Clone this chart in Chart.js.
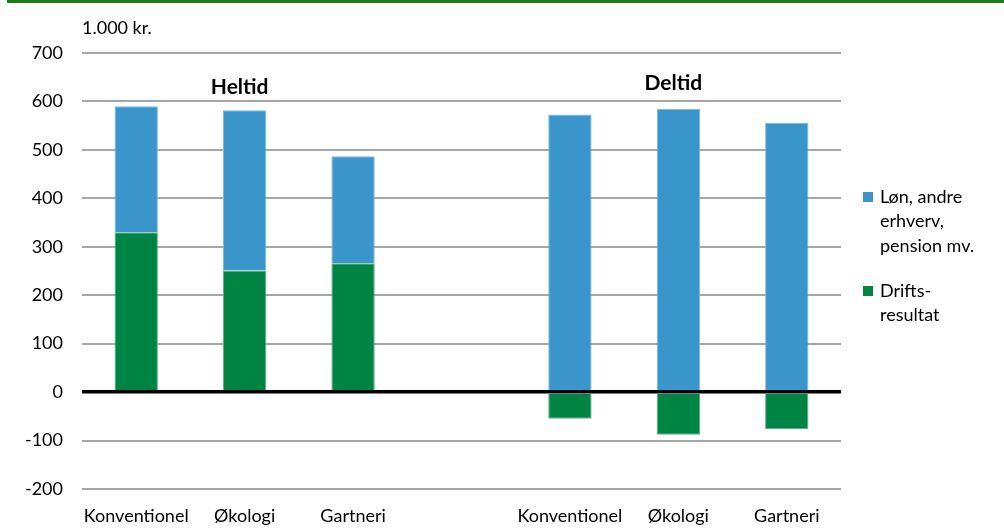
<!DOCTYPE html>
<html>
<head>
<meta charset="utf-8">
<script src="https://cdn.jsdelivr.net/npm/chart.js@4"></script>
<style>
  body { margin: 0; background: #fff; }
  #wrap { position: relative; width: 1004px; height: 532px; }
  #topline { position: absolute; left: 7px; right: 0; top: 0; height: 3px; background: #1a7f1a; }
</style>
</head>
<body>
<div id="wrap">
  <div id="topline"></div>
  <canvas id="chart" width="1004" height="532"></canvas>
</div>
<script>
// Data
const categories = ["Konventionel", "Økologi", "Gartneri", "", "Konventionel", "Økologi", "Gartneri"];
const driftsresultat = [330, 251, 266, null, -55, -88, -76];
const loenMv = [260, 331, 221, null, 573, 585, 556];
const groupLabels = ["Heltid", "Deltid"];
const groupCenterIndex = [1, 5];
const legendLoen = ["Løn, andre", "erhverv,", "pension mv."];
const legendDrifts = ["Drifts-", "resultat"];
const yTicks = { min: -200, max: 700, step: 100 };
const unitLabel = "1.000 kr.";

const FONT = "Lato, 'Liberation Sans', sans-serif";
const BLUE = "#3a95cb";
const GREEN = "#008443";

// Group titles, unit label and legend
const extrasPlugin = {
  id: "extras",
  afterDraw(chart) {
    const { ctx, chartArea, scales } = chart;
    ctx.save();
    ctx.fillStyle = "#000";
    ctx.textBaseline = "middle";

    ctx.font = "18px " + FONT;
    ctx.textAlign = "left";
    ctx.fillText(unitLabel, chartArea.left, 28);

    ctx.font = "bold 21px " + FONT;
    ctx.textAlign = "center";
    groupLabels.forEach((label, i) => {
      const x = scales.x.getPixelForValue(groupCenterIndex[i]);
      ctx.fillText(label, x - 5, i === 0 ? 87 : 83);
    });

    // legend
    ctx.font = "18px " + FONT;
    ctx.textAlign = "left";
    const items = [
      { color: BLUE, lines: legendLoen, y: 197 },
      { color: GREEN, lines: legendDrifts, y: 291 },
    ];
    items.forEach((item) => {
      ctx.fillStyle = item.color;
      ctx.fillRect(863, item.y - 5, 10, 10);
      ctx.fillStyle = "#000";
      item.lines.forEach((line, j) => {
        ctx.fillText(line, 880, item.y + j * 24.5);
      });
    });
    ctx.restore();
  },
};

const ctx = document.getElementById("chart").getContext("2d");

new Chart(ctx, {
  type: "bar",
  data: {
    labels: categories,
    datasets: [
      {
        label: "Driftsresultat",
        data: driftsresultat,
        backgroundColor: GREEN,
        borderColor: "#5fae86",
        borderWidth: 1,
        barPercentage: 0.4,
        categoryPercentage: 1,
      },
      {
        label: "Løn, andre erhverv, pension mv.",
        data: loenMv,
        backgroundColor: BLUE,
        borderColor: "#7cb9df",
        borderWidth: 1,
        barPercentage: 0.4,
        categoryPercentage: 1,
      },
    ],
  },
  options: {
    responsive: false,
    animation: false,
    layout: { padding: { top: 53, right: 163, left: 0, bottom: 0 } },
    scales: {
      x: {
        stacked: true,
        grid: { display: false },
        border: { display: false },
        ticks: {
          color: "#000",
          font: { family: FONT, size: 18 },
          maxRotation: 0,
          autoSkip: false,
          padding: 8,
        },
        afterFit(scale) {
          scale.height = 43;
        },
      },
      y: {
        stacked: true,
        min: yTicks.min,
        max: yTicks.max,
        border: { display: false },
        grid: {
          color: (c) => (c.tick && c.tick.value === 0 ? "#000" : "#a6a6a6"),
          lineWidth: (c) => (c.tick && c.tick.value === 0 ? 3.5 : 2),
          drawTicks: false,
        },
        ticks: {
          stepSize: yTicks.step,
          color: "#000",
          font: { family: FONT, size: 18 },
          padding: 19,
        },
        afterFit(scale) {
          scale.width = 82;
        },
      },
    },
    plugins: {
      legend: { display: false },
      tooltip: { enabled: false },
    },
  },
  plugins: [extrasPlugin],
});
</script>
</body>
</html>
